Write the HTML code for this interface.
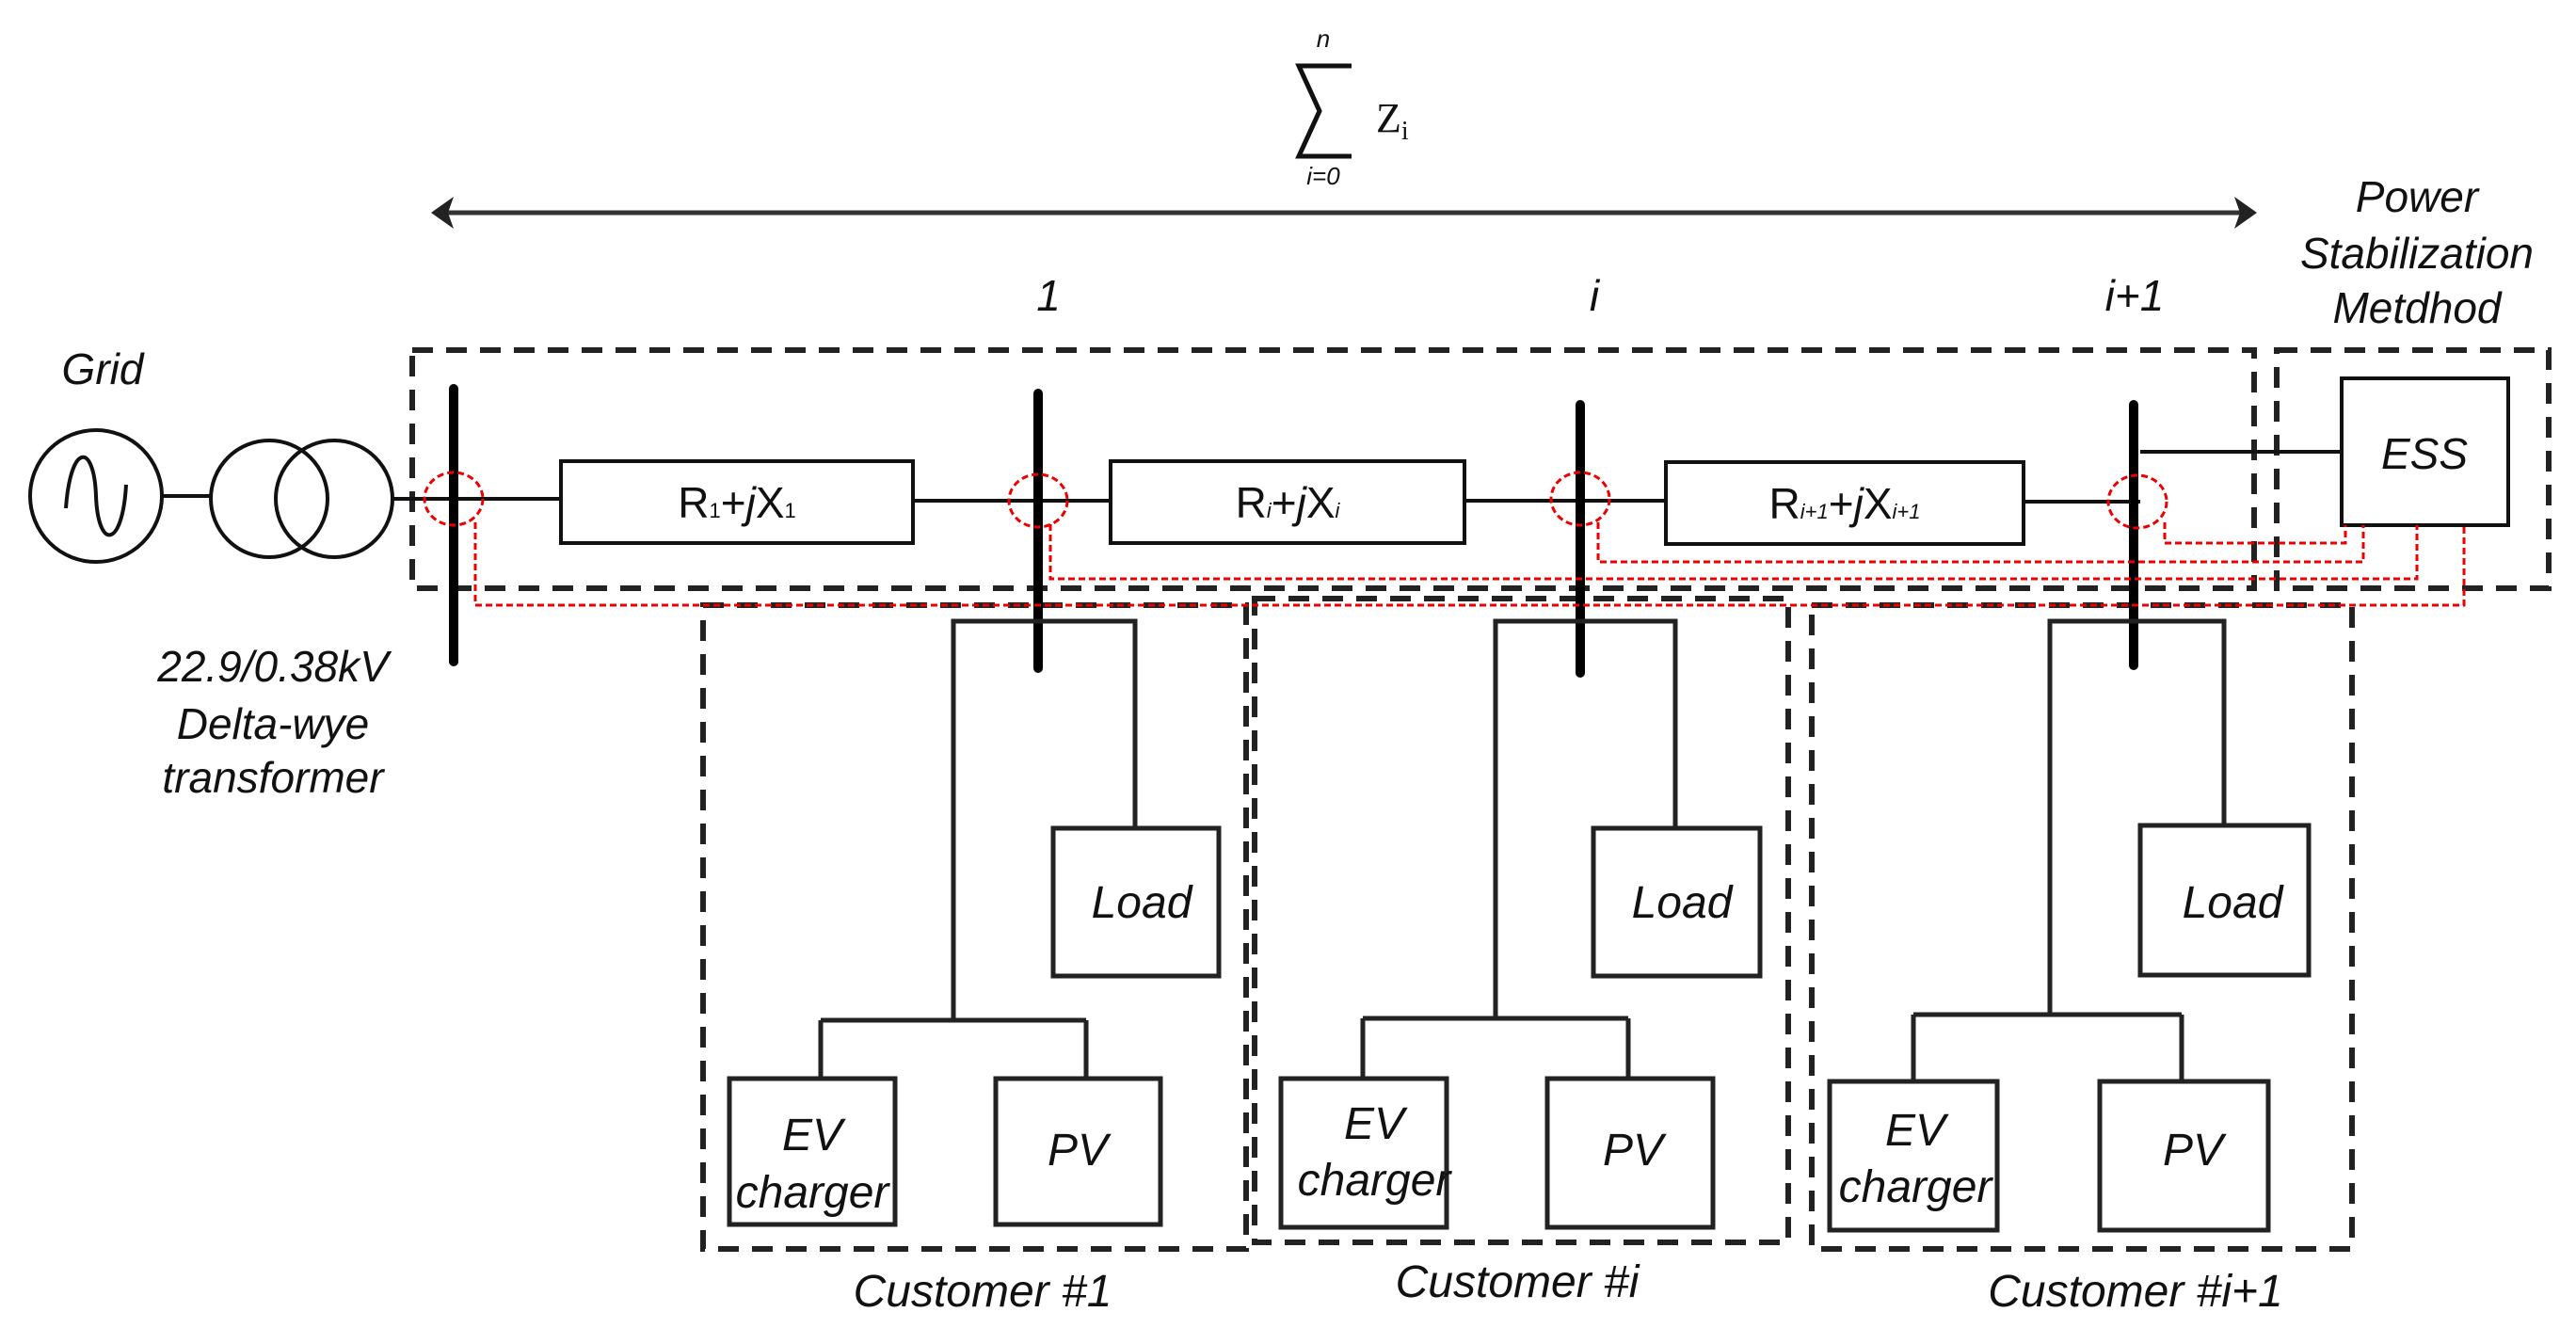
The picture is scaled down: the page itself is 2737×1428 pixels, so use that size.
<!DOCTYPE html>
<html><head><meta charset="utf-8"><style>
html,body{margin:0;padding:0;background:#fff}
svg{display:block}
text{font-family:"Liberation Sans",sans-serif;fill:#111}
.it{font-style:italic}
</style></head><body>
<svg width="2737" height="1428" viewBox="0 0 2737 1428" xmlns="http://www.w3.org/2000/svg">
<!-- top sum -->
<text x="1406" y="50" font-size="26" class="it" text-anchor="middle">n</text>
<path d="M1436,70 L1380,70 L1402,118 L1380,166 L1436,166" fill="none" stroke="#111" stroke-width="5"/>
<text x="1462" y="140" font-size="44" style="font-family:'Liberation Serif',serif">Z<tspan font-size="28" dy="8">i</tspan></text>
<text x="1406" y="196" font-size="26" class="it" text-anchor="middle">i=0</text>
<!-- double arrow -->
<line x1="470" y1="226" x2="2385" y2="226" stroke="#333" stroke-width="5"/>
<polygon points="458,226 482,209 476,226 482,243" fill="#222"/>
<polygon points="2398,226 2374,209 2380,226 2374,243" fill="#222"/>
<!-- node labels -->
<g class="it" font-size="46" text-anchor="middle">
<text x="1114" y="330">1</text>
<text x="1694" y="330">i</text>
<text x="2268" y="330">i+1</text>
<text x="2568" y="225">Power</text>
<text x="2568" y="285">Stabilization</text>
<text x="2568" y="343">Metdhod</text>
<text x="109" y="408">Grid</text>
<text x="290" y="724">22.9/0.38kV</text>
<text x="290" y="785">Delta-wye</text>
<text x="290" y="842">transformer</text>
</g>
<!-- dashed boxes -->
<g fill="none" stroke="#222" stroke-width="6" stroke-dasharray="22,14">
<rect x="438" y="372" width="1957" height="253"/>
<rect x="2419" y="372" width="289" height="253"/>
<rect x="747" y="643" width="577" height="684"/>
<rect x="1333" y="636" width="567" height="684"/>
<rect x="1925" y="643" width="574" height="684"/>
</g>
<!-- grid source -->
<g fill="none" stroke="#111" stroke-width="4">
<circle cx="102" cy="527" r="70"/>
<path d="M70,540 C75,470 100,470 102,527 C104,584 130,584 134,515"/>
<line x1="172" y1="527" x2="224" y2="527"/>
<circle cx="286" cy="530" r="62"/>
<circle cx="355" cy="530" r="62"/>
<line x1="417" y1="530" x2="596" y2="530"/>
<line x1="970" y1="532" x2="1180" y2="532"/>
<line x1="1556" y1="532" x2="1770" y2="532"/>
<line x1="2150" y1="533" x2="2274" y2="533"/>
<line x1="2274" y1="480" x2="2488" y2="480"/>
<rect x="596" y="490" width="374" height="87"/>
<rect x="1180" y="490" width="376" height="87"/>
<rect x="1770" y="491" width="380" height="87"/>
<rect x="2488" y="402" width="177" height="156"/>
</g>
<!-- buses -->
<g stroke="#000" stroke-width="10" stroke-linecap="round">
<line x1="482" y1="413" x2="482" y2="703"/>
<line x1="1103" y1="418" x2="1103" y2="710"/>
<line x1="1679" y1="430" x2="1679" y2="715"/>
<line x1="2267" y1="430" x2="2267" y2="707"/>
</g>
<!-- impedance labels -->
<g font-size="46" text-anchor="middle">
<text x="783" y="550">R<tspan font-size="22">1</tspan>+<tspan class="it">j</tspan>X<tspan font-size="22">1</tspan></text>
<text x="1368" y="550">R<tspan font-size="22" class="it">i</tspan>+<tspan class="it">j</tspan>X<tspan font-size="22" class="it">i</tspan></text>
<text x="1960" y="551">R<tspan font-size="22" class="it">i+1</tspan>+<tspan class="it">j</tspan>X<tspan font-size="22" class="it">i+1</tspan></text>
<text x="2576" y="498" class="it">ESS</text>
</g>
<!-- red dashed -->
<g fill="none" stroke="#e00" stroke-width="3" stroke-dasharray="7,4">
<ellipse cx="482" cy="530" rx="31" ry="28"/>
<ellipse cx="1103" cy="532" rx="31" ry="28"/>
<ellipse cx="1679" cy="530" rx="31" ry="28"/>
<ellipse cx="2271" cy="533" rx="31" ry="28"/>
<polyline points="505,555 505,643 2618,643 2618,558"/>
<polyline points="1116,557 1116,615 2568,615 2568,558"/>
<polyline points="1698,555 1698,597 2511,597 2511,558"/>
<polyline points="2300,555 2300,577 2492,577 2492,558"/>
</g>
<!-- customers -->
<g fill="none" stroke="#222" stroke-width="5">
<polyline points="1013,1084 1013,660 1206,660 1206,880"/>
<line x1="872" y1="1084" x2="1154" y2="1084"/>
<line x1="872" y1="1084" x2="872" y2="1146"/>
<line x1="1154" y1="1084" x2="1154" y2="1146"/>
<rect x="1119" y="880" width="176" height="157"/>
<rect x="775" y="1146" width="176" height="155"/>
<rect x="1058" y="1146" width="175" height="155"/>

<polyline points="1589,1082 1589,660 1780,660 1780,880"/>
<line x1="1448" y1="1082" x2="1730" y2="1082"/>
<line x1="1448" y1="1082" x2="1448" y2="1146"/>
<line x1="1730" y1="1082" x2="1730" y2="1146"/>
<rect x="1693" y="880" width="177" height="157"/>
<rect x="1361" y="1146" width="176" height="158"/>
<rect x="1644" y="1146" width="176" height="158"/>

<polyline points="2178,1078 2178,660 2363,660 2363,877"/>
<line x1="2033" y1="1078" x2="2318" y2="1078"/>
<line x1="2033" y1="1078" x2="2033" y2="1149"/>
<line x1="2318" y1="1078" x2="2318" y2="1149"/>
<rect x="2274" y="877" width="179" height="159"/>
<rect x="1944" y="1149" width="178" height="158"/>
<rect x="2231" y="1149" width="179" height="158"/>
</g>
<g class="it" font-size="48" text-anchor="middle">
<text x="1213" y="975">Load</text>
<text x="1787" y="975">Load</text>
<text x="2372" y="975">Load</text>
<text x="863" y="1222">EV</text><text x="863" y="1283">charger</text>
<text x="1145" y="1238">PV</text>
<text x="1460" y="1210">EV</text><text x="1460" y="1270">charger</text>
<text x="1735" y="1238">PV</text>
<text x="2035" y="1217">EV</text><text x="2035" y="1277">charger</text>
<text x="2330" y="1238">PV</text>
<text x="1044" y="1388">Customer #1</text>
<text x="1612" y="1378">Customer #i</text>
<text x="2269" y="1388">Customer #i+1</text>
</g>
</svg>
</body></html>
